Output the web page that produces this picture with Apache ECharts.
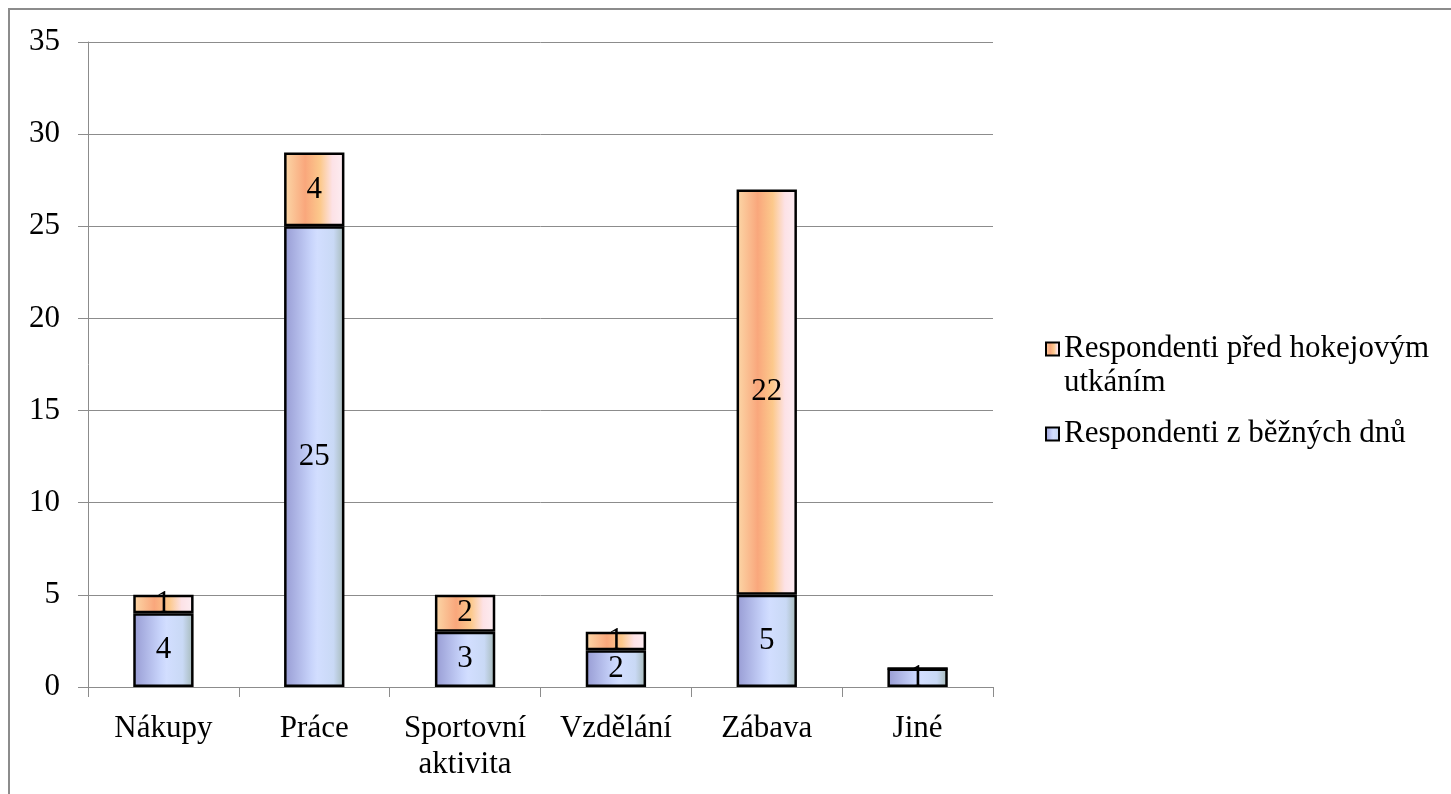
<!DOCTYPE html>
<html>
<head>
<meta charset="utf-8">
<script src="https://cdn.jsdelivr.net/npm/echarts@6/dist/echarts.min.js"></script>
<style>
  html, body { margin: 0; padding: 0; background: #fff; }
  #chart { width: 1451px; height: 794px; }
</style>
</head>
<body>
<div id="chart"></div>
<script>
const categories = ['Nákupy', 'Práce', 'Sportovní\naktivita', 'Vzdělání', 'Zábava', 'Jiné']
const regularDays = [4, 25, 3, 2, 5, 1]
const beforeMatch = [1, 4, 2, 1, 22, 0]
const seriesNames = ['Respondenti z běžných dnů', 'Respondenti před hokejovým utkáním']

const serif = '"Liberation Serif", "DejaVu Serif", serif'
const fs = 31

const blueFill = new echarts.graphic.LinearGradient(0, 0, 1, 0, [
  { offset: 0, color: '#979bd3' },
  { offset: 0.45, color: '#c8d4fb' },
  { offset: 0.55, color: '#d2deff' },
  { offset: 0.82, color: '#c9d9f5' },
  { offset: 1, color: '#a4b8b6' }
])
const orangeFill = new echarts.graphic.LinearGradient(0, 0, 1, 0, [
  { offset: 0, color: '#fcd8a8' },
  { offset: 0.35, color: '#f9a77c' },
  { offset: 0.6, color: '#fcc98c' },
  { offset: 0.8, color: '#fde2e6' },
  { offset: 1, color: '#fdeef3' }
])

const chart = echarts.init(document.getElementById('chart'))

const segLabel = {
  show: true,
  position: 'inside',
  color: '#000',
  fontFamily: serif,
  fontSize: fs,
  formatter: p => (p.value ? p.value : '')
}

chart.setOption({
  animation: false,
  textStyle: { fontFamily: serif },
  graphic: [{
    type: 'rect',
    shape: { x: 9, y: 9, width: 1600, height: 900 },
    style: { fill: 'none', stroke: '#8c8c8c', lineWidth: 2 },
    silent: true
  }],
  grid: { left: 88, right: 458, top: 42, bottom: 107 },
  legend: {
    data: [seriesNames[1], seriesNames[0]],
    orient: 'vertical',
    left: 1040,
    top: 293,
    itemWidth: 13,
    itemHeight: 13,
    itemGap: 17,
    icon: 'rect',
    // long name wraps after "hokejovým"; a leading empty line keeps the marker on the first line
    formatter: name => (name === seriesNames[1] ? '\nRespondenti před hokejovým\nutkáním' : name),
    textStyle: { fontFamily: serif, fontSize: fs, color: '#000', lineHeight: 34 }
  },
  xAxis: {
    type: 'category',
    data: categories,
    axisLine: { lineStyle: { color: '#8c8c8c', width: 1 } },
    axisTick: { show: true, length: 10, lineStyle: { color: '#8c8c8c' } },
    axisLabel: { color: '#000', fontFamily: serif, fontSize: fs, margin: 24, lineHeight: 36, interval: 0 }
  },
  yAxis: {
    type: 'value',
    min: 0,
    max: 35,
    interval: 5,
    axisLine: { show: true, lineStyle: { color: '#8c8c8c', width: 1 } },
    axisTick: { show: true, length: 10, lineStyle: { color: '#8c8c8c' } },
    splitLine: { lineStyle: { color: '#8c8c8c', width: 1 } },
    axisLabel: { color: '#000', fontFamily: serif, fontSize: fs, margin: 28 }
  },
  series: [{
    name: seriesNames[0],
    type: 'bar',
    stack: 'total',
    barWidth: '40%',
    data: regularDays,
    itemStyle: { color: blueFill, borderColor: '#000', borderWidth: 2.5 },
    label: segLabel
  }, {
    name: seriesNames[1],
    type: 'bar',
    stack: 'total',
    barWidth: '40%',
    data: beforeMatch,
    itemStyle: { color: orangeFill, borderColor: '#000', borderWidth: 2.5 },
    label: segLabel
  }]
})
</script>
</body>
</html>
